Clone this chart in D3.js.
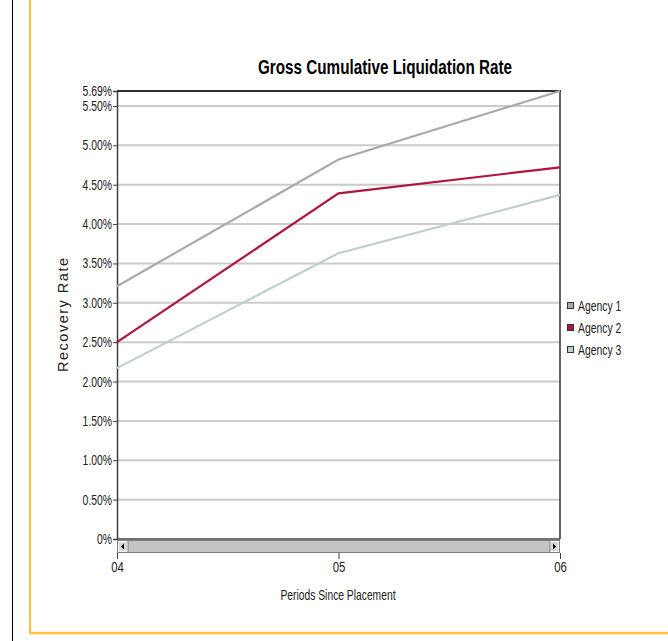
<!DOCTYPE html>
<html>
<head>
<meta charset="utf-8">
<script src="https://cdn.jsdelivr.net/npm/d3@7"></script>
<style>
  html, body { margin: 0; padding: 0; background: #fff; }
  svg { display: block; }
  text { font-family: "Liberation Sans", Arial, sans-serif; }
</style>
</head>
<body>
<svg id="chart" width="668" height="641"></svg>
<script>
const periods = ["04", "05", "06"];
const agency1 = [3.21, 4.82, 5.69];
const agency2 = [2.50, 4.39, 4.72];
const agency3 = [2.17, 3.63, 4.37];
const seriesNames = ["Agency 1", "Agency 2", "Agency 3"];
const seriesColors = ["#aaaaae", "#b0153f", "#bfd0cc"];
const yTicks = [0, 0.5, 1.0, 1.5, 2.0, 2.5, 3.0, 3.5, 4.0, 4.5, 5.0, 5.5, 5.69];
const yMax = 5.69;

const svg = d3.select("#chart");
const L = 117, R = 560, T = 91, B = 539;

// condense text horizontally (narrow face emulation)
function condense(sel, f) {
  sel.each(function () {
    const len = this.getComputedTextLength();
    d3.select(this).attr("textLength", len * f).attr("lengthAdjust", "spacingAndGlyphs");
  });
}

// page frame
svg.append("line").attr("x1", 12.5).attr("x2", 12.5).attr("y1", 0).attr("y2", 641)
  .attr("stroke", "#000").attr("stroke-width", 1);
svg.append("line").attr("x1", 30).attr("x2", 30).attr("y1", 0).attr("y2", 634)
  .attr("stroke", "#ffc03c").attr("stroke-width", 2);
svg.append("line").attr("x1", 29).attr("x2", 668).attr("y1", 633).attr("y2", 633)
  .attr("stroke", "#ffc03c").attr("stroke-width", 2.5);

const x = d3.scalePoint().domain(periods).range([L, R]);
const y = d3.scaleLinear().domain([0, yMax]).range([B, T]);

// gridlines
svg.append("g").selectAll("line").data(yTicks.filter(d => d > 0 && d < yMax)).join("line")
  .attr("x1", L).attr("x2", R)
  .attr("y1", d => y(d)).attr("y2", d => y(d))
  .attr("stroke", "#cccccc").attr("stroke-width", 2);

// y axis
const yAxis = d3.axisLeft(y).tickValues(yTicks).tickSize(4).tickPadding(1)
  .tickFormat(d => d === 0 ? "0%" : d3.format(".2f")(d) + "%");
const gy = svg.append("g").attr("transform", `translate(${L},0)`).call(yAxis);
gy.select(".domain").attr("stroke", "#404040").attr("stroke-width", 1.5);
gy.selectAll(".tick line").attr("stroke", "#404040");
gy.selectAll(".tick text").attr("fill", "#222").style("font-size", "14px")
  .style("font-family", "'Liberation Sans', Arial, sans-serif");
condense(gy.selectAll(".tick text"), 0.74);

// plot border
svg.append("line").attr("x1", L).attr("x2", R + 1).attr("y1", T).attr("y2", T)
  .attr("stroke", "#303030").attr("stroke-width", 2);
svg.append("line").attr("x1", R).attr("x2", R).attr("y1", T).attr("y2", B)
  .attr("stroke", "#303030").attr("stroke-width", 1.5);
svg.append("line").attr("x1", L).attr("x2", R).attr("y1", B).attr("y2", B)
  .attr("stroke", "#404040").attr("stroke-width", 1.5);

// lines
const data = [agency1, agency2, agency3];
const line = d3.line().x((d, i) => x(periods[i])).y(d => y(d));
svg.append("g").selectAll("path").data(data).join("path")
  .attr("d", d => line(d))
  .attr("fill", "none")
  .attr("stroke", (d, i) => seriesColors[i])
  .attr("stroke-width", 2.2);

// scrollbar
const sb = svg.append("g");
sb.append("rect").attr("x", L + 0.5).attr("y", 540.5).attr("width", R - L - 1).attr("height", 12)
  .attr("fill", "#c4c4c4").attr("stroke", "#808080");
sb.append("rect").attr("x", L + 1.5).attr("y", 541.5).attr("width", 9).attr("height", 10)
  .attr("fill", "#d8d8d8").attr("stroke", "#ffffff");
sb.append("line").attr("x1", L + 11).attr("x2", L + 11).attr("y1", 541).attr("y2", 552)
  .attr("stroke", "#808080");
sb.append("path").attr("d", `M${L + 4},546.5 L${L + 7},543.5 L${L + 7},549.5 Z`).attr("fill", "#000");
sb.append("rect").attr("x", R - 9.5).attr("y", 541.5).attr("width", 8).attr("height", 10)
  .attr("fill", "#d8d8d8").attr("stroke", "#ffffff");
sb.append("line").attr("x1", R - 10).attr("x2", R - 10).attr("y1", 541).attr("y2", 552)
  .attr("stroke", "#808080");
sb.append("path").attr("d", `M${R - 4},546.5 L${R - 7},543.5 L${R - 7},549.5 Z`).attr("fill", "#000");

// x axis
const xAxis = d3.axisBottom(x).tickSize(6).tickPadding(2);
const gx = svg.append("g").attr("transform", "translate(0,553)").call(xAxis);
gx.select(".domain").remove();
gx.selectAll(".tick line").attr("stroke", "#404040");
gx.selectAll(".tick text").attr("fill", "#222").style("font-size", "15px");
condense(gx.selectAll(".tick text"), 0.76);

// title
svg.append("text").attr("x", 385).attr("y", 74).attr("text-anchor", "middle")
  .attr("textLength", 254).attr("lengthAdjust", "spacingAndGlyphs")
  .style("font-size", "20px").style("font-weight", "bold").attr("fill", "#000")
  .text("Gross Cumulative Liquidation Rate");

// axis titles
svg.append("text").attr("transform", "translate(68,315) rotate(-90)")
  .attr("text-anchor", "middle")
  .attr("textLength", 114).attr("lengthAdjust", "spacing")
  .style("font-size", "14.5px").attr("fill", "#222")
  .text("Recovery Rate");
const xt = svg.append("text").attr("x", 338).attr("y", 600).attr("text-anchor", "middle")
  .style("font-size", "14.5px").attr("fill", "#222")
  .text("Periods Since Placement");
condense(xt, 0.71);

// legend
const lg = svg.append("g").selectAll("g").data(seriesNames).join("g")
  .attr("transform", (d, i) => `translate(567,${302 + i * 22})`);
lg.append("rect").attr("x", 0.5).attr("y", 0.5).attr("width", 6).attr("height", 6)
  .attr("fill", (d, i) => seriesColors[i]).attr("stroke", "#333");
const lt = lg.append("text").attr("x", 11).attr("y", 8.5).style("font-size", "14px").attr("fill", "#222")
  .text(d => d);
condense(lt, 0.74);
</script>
</body>
</html>
